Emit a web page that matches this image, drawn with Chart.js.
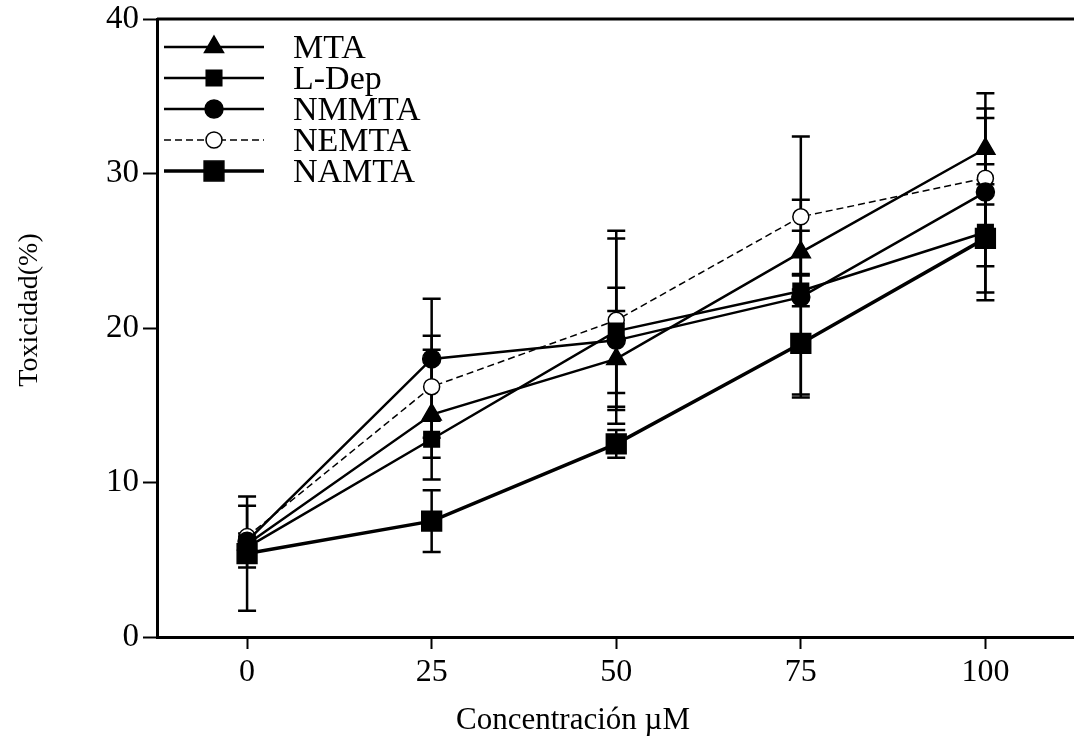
<!DOCTYPE html>
<html>
<head>
<meta charset="utf-8">
<script src="https://cdn.jsdelivr.net/npm/chart.js@4.4.1/dist/chart.umd.min.js"></script>
<style>
  body { margin: 0; background: #fff; }
  #wrap { width: 1074px; height: 751px; }
</style>
</head>
<body>
<div id="wrap"><canvas id="myChart" width="1074" height="751"></canvas></div>
<script>
// concentraciones (µM)
const concentraciones = [0, 25, 50, 75, 100];
const xTicks = [0, 25, 50, 75, 100];
const yTicks = [0, 10, 20, 30, 40];

// toxicidad media (%) por compuesto
const mta = [6.0, 14.4, 18.0, 24.9, 31.6];
const lDep = [5.8, 12.8, 19.8, 22.4, 26.2];
const nmmta = [6.2, 18.0, 19.2, 22.0, 28.8];
const nemta = [6.5, 16.2, 20.5, 27.2, 29.7];
const namta = [5.4, 7.5, 12.5, 19.0, 25.8];

// barras de error (±)
const mtaErr = [0.5, 4.2, 3.1, 1.4, 3.6];
const lDepErr = [0.5, 1.2, 6.0, 1.0, 4.4];
const nmmtaErr = [0.5, 3.9, 3.4, 6.3, 4.8];
const nemtaErr = [2.0, 3.3, 5.8, 5.2, 4.5];
const namtaErr = [3.7, 2.0, 0.9, 3.5, 3.5];

const FONT = "'Liberation Serif', 'Times New Roman', serif";

const toPoints = function (vals) {
  return concentraciones.map(function (c, i) { return { x: c, y: vals[i] }; });
};

const series = [
  { label: "MTA", data: mta, err: mtaErr, style: "triangle", radius: 11, width: 2.5, dash: [], fill: "#000" },
  { label: "L-Dep", data: lDep, err: lDepErr, style: "rect", radius: 11, width: 2.5, dash: [], fill: "#000" },
  { label: "NMMTA", data: nmmta, err: nmmtaErr, style: "circle", radius: 9, width: 2.5, dash: [], fill: "#000" },
  { label: "NEMTA", data: nemta, err: nemtaErr, style: "circle", radius: 8, width: 1.5, dash: [7, 4], fill: "#fff" },
  { label: "NAMTA", data: namta, err: namtaErr, style: "rect", radius: 14, width: 3.5, dash: [], fill: "#000" },
];

// barras de error dibujadas con las escalas del gráfico
const errorBars = {
  id: "errorBars",
  beforeDatasetsDraw(chart) {
    const ctx = chart.ctx;
    const xs = chart.scales.x;
    const ys = chart.scales.y;
    ctx.save();
    ctx.strokeStyle = "#000";
    ctx.lineWidth = 2.5;
    chart.data.datasets.forEach(function (ds) {
      ds.data.forEach(function (p, i) {
        const e = ds.errValues[i];
        const px = xs.getPixelForValue(p.x);
        const top = ys.getPixelForValue(p.y + e);
        const bot = ys.getPixelForValue(p.y - e);
        ctx.beginPath();
        ctx.moveTo(px, top); ctx.lineTo(px, bot);
        ctx.moveTo(px - 9, top); ctx.lineTo(px + 9, top);
        ctx.moveTo(px - 9, bot); ctx.lineTo(px + 9, bot);
        ctx.stroke();
      });
    });
    ctx.restore();
  },
};

// marco superior, leyenda y títulos de ejes
const decor = {
  id: "decor",
  afterDraw(chart) {
    const ctx = chart.ctx;
    const area = chart.chartArea;
    const xs = chart.scales.x;
    ctx.save();
    ctx.strokeStyle = "#000";
    ctx.lineWidth = 3;
    ctx.beginPath();
    ctx.moveTo(area.left, area.top);
    ctx.lineTo(chart.width, area.top);
    ctx.stroke();
    // el eje x llega hasta el borde derecho
    const by = Math.round(xs.top - 1.5) + 1.5;
    ctx.beginPath();
    ctx.moveTo(area.right - 6, by);
    ctx.lineTo(chart.width, by);
    ctx.stroke();

    // leyenda
    chart.data.datasets.forEach(function (ds, i) {
      const y = 47 + i * 31;
      ctx.save();
      ctx.lineWidth = ds.borderWidth;
      ctx.setLineDash(ds.borderDash);
      ctx.beginPath();
      ctx.moveTo(164, y); ctx.lineTo(264, y);
      ctx.stroke();
      ctx.restore();
      ctx.fillStyle = ds.pointBackgroundColor;
      ctx.strokeStyle = "#000";
      ctx.lineWidth = 1.5;
      Chart.helpers.drawPoint(ctx, { pointStyle: ds.pointStyle, radius: ds.pointRadius, borderWidth: 1.5 }, 214, y);
      ctx.fillStyle = "#000";
      ctx.font = "34px " + FONT;
      ctx.textBaseline = "middle";
      ctx.textAlign = "left";
      ctx.fillText(ds.label, 293, y + 2);
    });

    ctx.fillStyle = "#000";
    ctx.textAlign = "center";
    ctx.textBaseline = "middle";
    ctx.font = "31px " + FONT;
    ctx.fillText("Concentración µM", 573, 721);
    ctx.translate(30, 310);
    ctx.rotate(-Math.PI / 2);
    ctx.font = "28px " + FONT;
    ctx.fillText("Toxicidad(%)", 0, 0);
    ctx.restore();
  },
};

const ctx = document.getElementById("myChart").getContext("2d");
const myChart = new Chart(ctx, {
  type: "scatter",
  data: {
    datasets: series.map(function (s) {
      return {
        label: s.label,
        data: toPoints(s.data),
        errValues: s.err,
        showLine: true,
        borderColor: "#000",
        borderWidth: s.width,
        borderDash: s.dash,
        pointStyle: s.style,
        pointRadius: s.radius,
        pointBackgroundColor: s.fill,
        pointBorderColor: "#000",
        pointBorderWidth: 1.5,
        tension: 0,
      };
    }),
  },
  plugins: [errorBars, decor],
  options: {
    responsive: false,
    animation: false,
    layout: { padding: { top: 19, right: 0, left: 0, bottom: 0 } },
    plugins: {
      legend: { display: false },
      tooltip: { enabled: false },
    },
    scales: {
      x: {
        type: "linear",
        min: -12.2,
        max: 109.9,
        afterBuildTicks: function (scale) {
          scale.ticks = xTicks.map(function (v) { return { value: v }; });
        },
        afterFit: function (scale) {
          scale.height = 114;
        },
        grid: { drawOnChartArea: false, drawTicks: true, tickLength: 12, tickWidth: 2, tickColor: "#000" },
        border: { display: true, width: 3, color: "#000" },
        ticks: { color: "#000", font: { family: FONT, size: 32 }, padding: 4 },
      },
      y: {
        type: "linear",
        min: 0,
        max: 40,
        afterBuildTicks: function (scale) {
          scale.ticks = yTicks.map(function (v) { return { value: v }; });
        },
        afterFit: function (scale) {
          scale.width = 157;
          scale.paddingTop = 0;
          scale.paddingBottom = 0;
        },
        grid: { drawOnChartArea: false, drawTicks: true, tickLength: 14, tickWidth: 2, tickColor: "#000" },
        border: { display: true, width: 3, color: "#000" },
        ticks: { color: "#000", font: { family: FONT, size: 33 }, padding: 4 },
      },
    },
  },
});
</script>
</body>
</html>
